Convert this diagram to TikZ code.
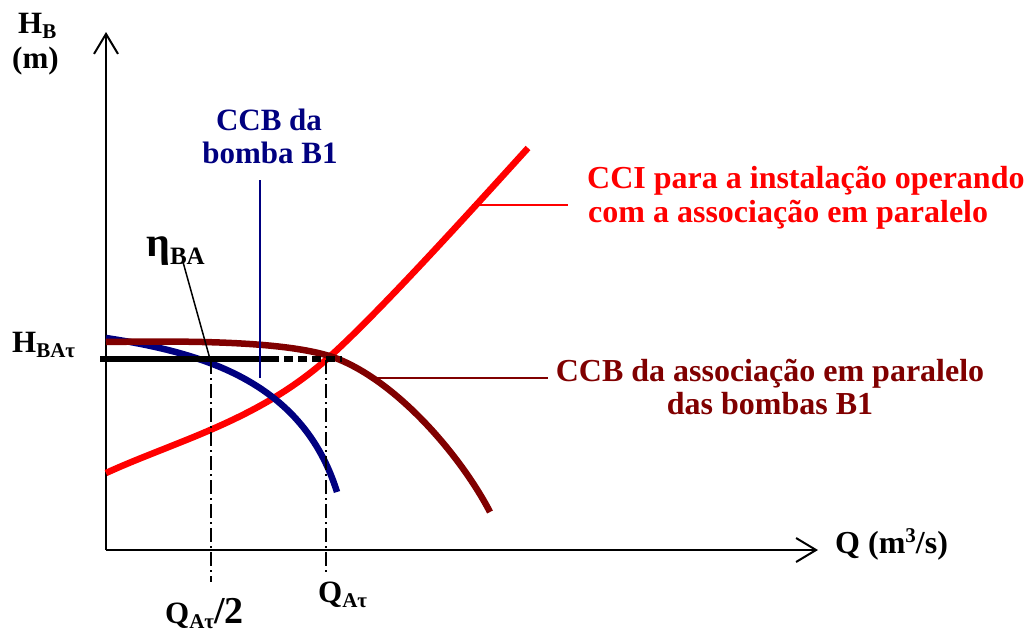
\documentclass[tikz,border=0pt]{standalone}
\usepackage{fontspec}
\setmainfont{Liberation Serif}
\usetikzlibrary{arrows.meta}
\definecolor{ccired}{RGB}{255,0,0}
\definecolor{assocred}{RGB}{128,0,0}
\definecolor{pumpblue}{RGB}{0,0,128}
\newcommand{\lsub}[1]{\raisebox{-5pt}{\fontsize{21}{21}\selectfont #1}}
\newcommand{\lsup}[1]{\raisebox{11pt}{\fontsize{21}{21}\selectfont #1}}
\tikzset{
  lbl/.style={inner sep=0pt, font=\fontsize{31}{33}\selectfont\bfseries},
  biglbl/.style={inner sep=0pt, font=\fontsize{32}{34}\selectfont\bfseries},
  axisline/.style={line width=2pt, -{Straight Barb[length=20pt,width=24pt,line width=2pt]}},
  curveline/.style={line width=6.5pt, line join=round, line cap=butt},
  leader/.style={line width=2pt},
  guide/.style={line width=1.5pt, dash pattern=on 14pt off 4pt on 2pt off 4pt},
}
\begin{document}
\begin{tikzpicture}[x=1pt,y=-1pt]
\useasboundingbox (0,0) rectangle (1029,632);
% axes
\coordinate (origin) at (106,550);
\coordinate (ytip) at (106,32);
\coordinate (xtip) at (818,550);
\draw[axisline] (origin) -- (ytip);
\draw[axisline] (origin) -- (xtip);
% axis labels
\node[lbl, anchor=base west] (hb) at (18,33) {H\lsub{B}};
\node[lbl, anchor=base west] (hbunit) at (12,68) {(m)};
\node[biglbl, anchor=base west] (qlab) at (835,553) {Q (m\lsup{3}/s)};
% curves
\coordinate (cci0) at (106,473);
\coordinate (cci1) at (327,359);
\coordinate (cci2) at (528,148);
\draw[curveline, ccired] (cci0) .. controls (176,441) and (257,421) .. (cci1)
                               .. controls (377,315) and (478,203) .. (cci2);
\coordinate (pb0) at (106,338);
\coordinate (pb1) at (337,492);
\draw[curveline, pumpblue] (pb0) .. controls (206,353) and (303,383) .. (pb1);
\coordinate (as0) at (106,342);
\coordinate (as1) at (338,359);
\coordinate (as2) at (490,512);
\draw[curveline, assocred] (as0) .. controls (180,341) and (290,340) .. (as1)
                                .. controls (400,384) and (462,458) .. (as2);
% operating head line
\coordinate (hstart) at (100,359);
\coordinate (hmid) at (270,359);
\coordinate (hend) at (342,359);
\draw[line width=6pt] (hstart) -- (hmid);
\draw[line width=6pt, dash pattern=on 9pt off 5pt] (hmid) -- (hend);
% guides
\coordinate (g1top) at (211,360);
\coordinate (g1bot) at (211,582);
\coordinate (g2top) at (326,360);
\coordinate (g2bot) at (326,575);
\draw[guide] (g1top) -- (g1bot);
\draw[guide] (g2top) -- (g2bot);
% labels
\node[lbl, anchor=base west] (hbat) at (12,352) {H\lsub{BAτ}};
\node[lbl, anchor=base west] (qa2) at (165,623) {Q\lsub{Aτ}{\fontsize{38}{40}\selectfont /2}};
\node[lbl, anchor=base west] (qa) at (318,602) {Q\lsub{Aτ}};
\node[lbl, anchor=base west] (eta) at (146,256) {{\fontsize{42}{42}\selectfont η}\raisebox{-8pt}{\fontsize{25}{25}\selectfont BA}};
\node[lbl, pumpblue, anchor=base] (ccb1a) at (269,130) {CCB da};
\node[lbl, pumpblue, anchor=base] (ccb1b) at (270,163) {bomba B1};
\node[biglbl, ccired, anchor=base west] (ccia) at (587,188) {CCI para a instalação operando};
\node[biglbl, ccired, anchor=base west] (ccib) at (588,222) {com a associação em paralelo};
\node[biglbl, assocred, anchor=base] (assa) at (770,381) {CCB da associação em paralelo};
\node[biglbl, assocred, anchor=base] (assb) at (770,414) {das bombas B1};
% leaders
\coordinate (bluetop) at (260,180);
\coordinate (bluebot) at (260,378);
\draw[line width=1.5pt, pumpblue] (bluetop) -- (bluebot);
\coordinate (etaend) at (210,359);
\coordinate (etastart) at (183,262);
\draw[line width=1.5pt] (etastart) -- (etaend);
\coordinate (redl) at (472,205);
\coordinate (redr) at (568,205);
\draw[leader, ccired] (redl) -- (redr);
\coordinate (darkl) at (373,378);
\coordinate (darkr) at (548,378);
\draw[leader, assocred] (darkl) -- (darkr);
\end{tikzpicture}
\end{document}
